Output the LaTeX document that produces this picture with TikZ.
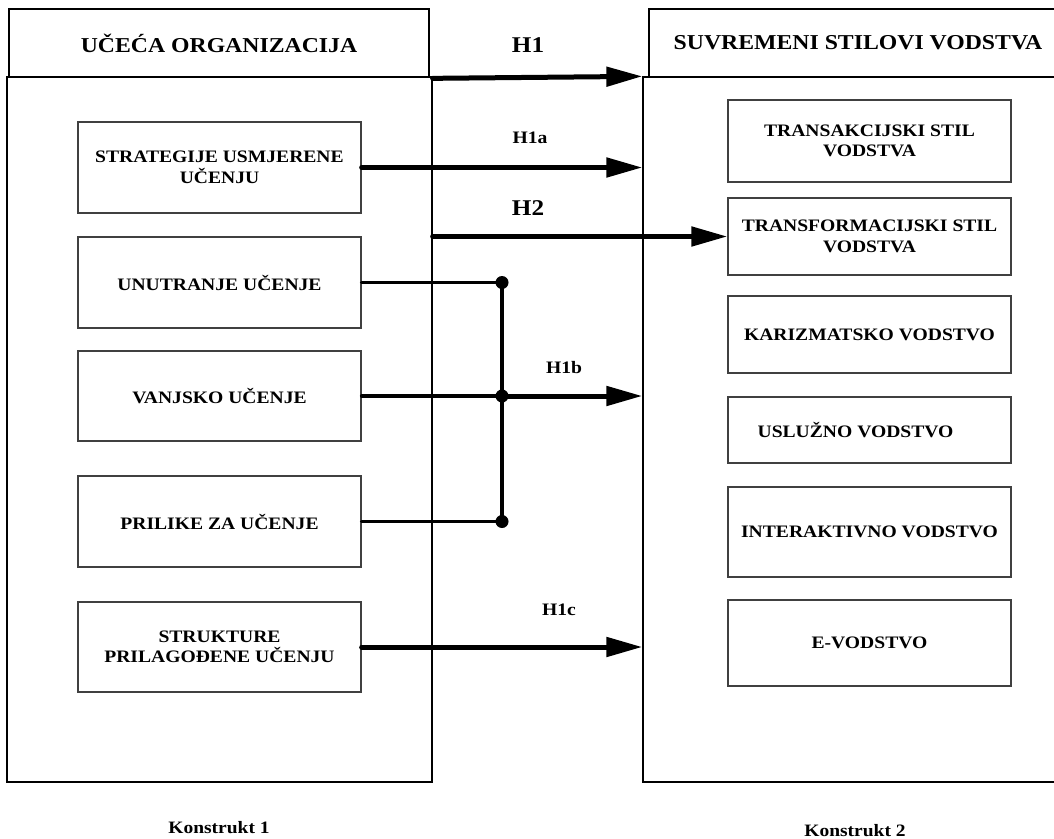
\documentclass[tikz,border=0pt]{standalone}
\usepackage{fontspec}
\setmainfont{Liberation Serif}[FakeStretch=1.12]
\usetikzlibrary{arrows.meta}
\tikzset{
  outer/.style={draw=black, line width=1.3bp, inner sep=0pt},
  hdr/.style={draw=black, line width=1.3bp, inner sep=0pt, minimum height=68bp,
    font=\fontsize{21.2bp}{24bp}\selectfont\bfseries},
  ibox/.style={draw=black!75, line width=1.3bp, inner sep=0pt, align=center,
    minimum width=283bp, font=\fontsize{17.5bp}{20.5bp}\selectfont\bfseries},
  lbl/.style={inner sep=0pt, font=\fontsize{17.5bp}{19bp}\selectfont\bfseries},
  biglbl/.style={inner sep=0pt, font=\fontsize{22.5bp}{25bp}\selectfont\bfseries},
  captxt/.style={inner sep=0pt, font=\fontsize{17.4bp}{19bp}\selectfont\bfseries},
  arr/.style={line width=5bp, line cap=round, -{Triangle[length=36bp,width=19bp]}},
  lnk/.style={line width=3.5bp, line cap=round},
  jline/.style={line width=4.5bp},
  jdot/.style={circle, fill=black, inner sep=0pt, minimum size=13bp},
}
\begin{document}
\begin{tikzpicture}[x=1bp,y=-1bp]
\useasboundingbox (0,0) rectangle (1054,839);

% main frames
\node[outer, minimum width=425bp, minimum height=705bp] (lm) at (219.5,429.5) {};
\node[outer, minimum width=427bp, minimum height=705bp] (rm) at (856.5,429.5) {};
% headers
\node[hdr, minimum width=420bp] (lh) at (219,43) {UČEĆA ORGANIZACIJA};
\node[hdr, minimum width=418bp] (rh) at (858,43) {SUVREMENI STILOVI VODSTVA};

% left boxes
\node[ibox, minimum height=91bp] (s1) at (219.5,167.5) {STRATEGIJE USMJERENE\\UČENJU};
\node[ibox, minimum height=91bp] (s2) at (219.5,282.5) {UNUTRANJE UČENJE};
\node[ibox, minimum height=90bp] (s3) at (219.5,396) {VANJSKO UČENJE};
\node[ibox, minimum height=91bp] (s4) at (219.5,521.5) {PRILIKE ZA UČENJE};
\node[ibox, minimum height=90bp] (s5) at (219.5,647) {STRUKTURE\\PRILAGOĐENE UČENJU};

% right boxes
\node[ibox, minimum height=82bp] (t1) at (869.5,141) {TRANSAKCIJSKI STIL\\VODSTVA};
\node[ibox, minimum height=77bp] (t2) at (869.5,236.5) {TRANSFORMACIJSKI STIL\\VODSTVA};
\node[ibox, minimum height=77bp] (t3) at (869.5,334.5) {KARIZMATSKO VODSTVO};
\node[ibox, minimum height=66bp] (t4) at (869.5,430) {USLUŽNO VODSTVO\hspace*{28bp}};
\node[ibox, minimum height=90bp] (t5) at (869.5,532) {INTERAKTIVNO VODSTVO};
\node[ibox, minimum height=86bp] (t6) at (869.5,643) {E-VODSTVO};

% H1
\draw[arr] ([yshift=-2bp]lm.north east) -- (rm.north west);
\node[biglbl] (h1) at (528,45) {H1};
% H1a
\draw[arr] (s1.east) -- (s1.east -| rm.west);
\node[lbl] (h1a) at (530,138) {H1a};
% H2
\draw[arr] (t2.west -| lm.east) -- (t2.west);
\node[biglbl] (h2) at (528,208) {H2};
% H1b junction
\coordinate (jx) at (502,0);
\coordinate (j1) at (s2.east -| jx);
\coordinate (j2) at (s3.east -| jx);
\coordinate (j3) at (s4.east -| jx);
\draw[lnk] (s2.east) -- (j1);
\draw[lnk] (s3.east) -- (j2);
\draw[lnk] (s4.east) -- (j3);
\draw[jline] (j1) -- (j3);
\draw[arr] (j2) -- (j2 -| rm.west);
\node[jdot] (d1) at (j1) {};
\node[jdot] (d2) at (j2) {};
\node[jdot] (d3) at (j3) {};
\node[lbl] (h1b) at (564,368) {H1b};
% H1c
\draw[arr] (s5.east) -- (s5.east -| rm.west);
\node[lbl] (h1c) at (559,610) {H1c};

% captions
\node[captxt] (k1) at (219,828) {Konstrukt 1};
\node[captxt] (k2) at (855,831) {Konstrukt 2};
\end{tikzpicture}
\end{document}
